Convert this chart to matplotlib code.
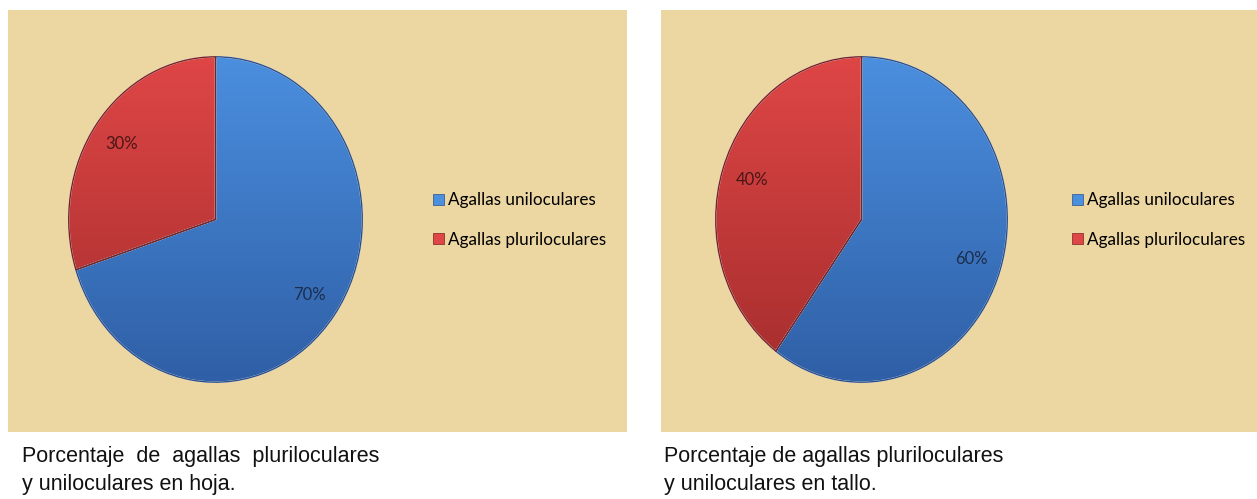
import numpy as np
import matplotlib
matplotlib.use("Agg")
import matplotlib.pyplot as plt
from matplotlib.patches import Patch, Wedge

# Datos
categorias = ["Agallas uniloculares", "Agallas pluriloculares"]
hoja = [70, 30]
tallo = [60, 40]
leyendas = ["Porcentaje  de  agallas  pluriloculares\ny uniloculares en hoja.",
            "Porcentaje de agallas pluriloculares\ny uniloculares en tallo."]

W, H = 1257, 499
fig = plt.figure(figsize=(W / 100, H / 100), dpi=100)
fig.patch.set_facecolor("white")

fondo = "#ecd6a2"
grad_azul = ("#4b8fdf", "#2f5fa6")
grad_rojo = ("#df4646", "#a52d2d")
borde = {"azul": "#2b4e86", "rojo": "#7a2222"}
texto_pct = ["#1c2d4d", "#4a1616"]


def px(x, y, w, h):
    return [x / W, (H - y - h) / H, w / W, h / H]


def panel(x0, x1, valores, pie_x, pie_w, leg_x, caption_x, caption):
    # fondo tipo papiro
    fondo_ax = fig.add_axes(px(x0, 10, x1 - x0, 422), zorder=-5)
    fondo_ax.set_facecolor(fondo)
    fondo_ax.set_xticks([])
    fondo_ax.set_yticks([])
    for s in fondo_ax.spines.values():
        s.set_visible(False)

    ax = fig.add_axes(px(pie_x, 56, pie_w, 327), zorder=1)
    ax.set_facecolor("none")
    wedges, textos, autot = ax.pie(
        valores, startangle=90, counterclock=False, radius=1,
        colors=[grad_azul[0], grad_rojo[0]], autopct="%d%%", pctdistance=0.79,
        wedgeprops=dict(linewidth=1.2, edgecolor="#e8eef8"),
        textprops=dict(family="Lato", fontsize=12))
    ax.set_aspect("auto")
    ax.axis("off")
    # degradado vertical en cada sector
    g = np.linspace(0, 1, 256).reshape(-1, 1)
    for w, (c_top, c_bot) in zip(wedges, [grad_azul, grad_rojo]):
        cmap = matplotlib.colors.LinearSegmentedColormap.from_list("g", [c_top, c_bot])
        im = ax.imshow(g, cmap=cmap, extent=(-1, 1, -1, 1), origin="upper",
                       aspect="auto", zorder=1)
        im.set_clip_path(w)
        w.set_zorder(2)
        w.set_facecolor("none")
    # borde exterior oscuro
    for w, c in zip(wedges, [borde["azul"], borde["rojo"]]):
        ax.add_patch(Wedge(w.center, w.r, w.theta1, w.theta2, facecolor="none",
                           edgecolor=c, linewidth=1.0, zorder=2.5))
    ax.set_xlim(-1.005, 1.005)
    ax.set_ylim(-1.005, 1.005)
    for t, c in zip(autot, texto_pct):
        t.set_color(c)
        t.set_zorder(5)

    handles = [Patch(facecolor=grad_azul[0], edgecolor=borde["azul"], linewidth=0.5),
               Patch(facecolor=grad_rojo[0], edgecolor=borde["rojo"], linewidth=0.5)]
    fig.legend(handles, categorias, loc="center left",
               bbox_to_anchor=(leg_x / W, (H - 220) / H), frameon=False,
               prop=dict(family="Lato", size=12.3), handlelength=0.65, handleheight=0.65,
               handletextpad=0.25, labelspacing=1.35, borderpad=0, borderaxespad=0)

    fig.text(caption_x / W, (H - 446) / H, caption, ha="left", va="top",
             family="Liberation Sans", fontsize=15.5, color="#111111", linespacing=1.45)


panel(8, 627, hoja, 68, 295, 433, 22, leyendas[0])
panel(661, 1257, tallo, 715, 293, 1072, 664, leyendas[1])

fig.savefig("out.png", dpi=100, facecolor="white")
